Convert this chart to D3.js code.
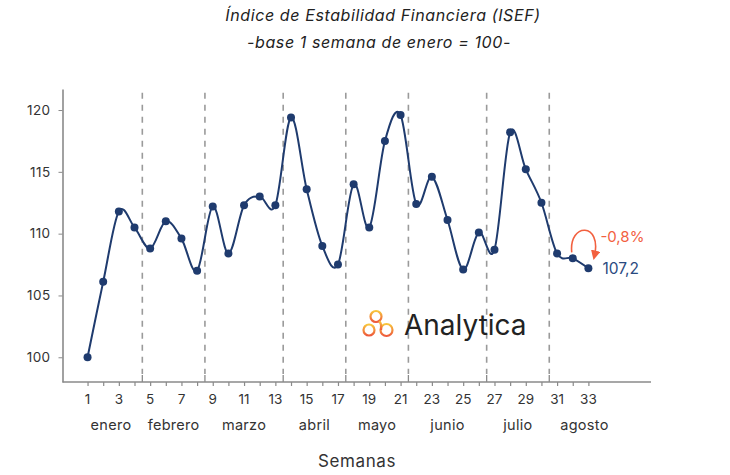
<!DOCTYPE html>
<html>
<head>
<meta charset="utf-8">
<script src="https://cdn.jsdelivr.net/npm/d3@7"></script>
<style>
  body { margin: 0; background: #fff; }
  svg text { font-family: "Inter", "Open Sans", sans-serif; }
</style>
</head>
<body>
<svg id="chart" width="730" height="475"></svg>
<script>
// weekly ISEF values, base week 1 of january = 100
var weeks = d3.range(1, 34);
var isef = [100, 106.1, 111.8, 110.5, 108.8, 111.0, 109.6, 107.0, 112.2, 108.4,
            112.3, 113.0, 112.3, 119.4, 113.6, 109.0, 107.5, 114.0, 110.5, 117.5,
            119.6, 112.4, 114.6, 111.1, 107.1, 110.1, 108.7, 118.2, 115.2, 112.5,
            108.4, 108.0, 107.2];
var yTicks = [100, 105, 110, 115, 120];
var xTickLabels = d3.range(1, 34, 2);
// month boundaries (between weeks) and names
var monthBreaks = [0.5, 4.5, 8.5, 13.5, 17.5, 21.5, 26.5, 30.5, 35];
var months = ["enero", "febrero", "marzo", "abril", "mayo", "junio", "julio", "agosto"];
var changeLabel = "-0,8%";
var lastLabel = "107,2";

var svg = d3.select("#chart");
var navy = "#1f3b6e";
var axisGrey = "#8a8a8a";

var x = d3.scaleLinear().domain([-0.6, 37]).range([62.5, 651]);
var y = d3.scaleLinear().domain([98, 121.7]).range([382, 89]);

// title
svg.append("text").attr("x", 383).attr("y", 21).attr("text-anchor", "middle")
   .style("font-style", "italic").style("font-size", "16px").style("letter-spacing", "0.6px")
   .attr("fill", "#222").text("Índice de Estabilidad Financiera (ISEF)");
svg.append("text").attr("x", 379).attr("y", 48).attr("text-anchor", "middle")
   .style("font-style", "italic").style("font-size", "16px").style("letter-spacing", "0.6px")
   .attr("fill", "#222").text("-base 1 semana de enero = 100-");

// dashed month separators
var inner = monthBreaks.slice(1, monthBreaks.length - 1);
svg.append("g").selectAll("line").data(inner).join("line")
   .attr("x1", function(d) { return x(d); }).attr("x2", function(d) { return x(d); })
   .attr("y1", y(121.4)).attr("y2", y(98) - 8)
   .attr("stroke", "#9a9a9a").attr("stroke-width", 1.6).attr("stroke-dasharray", "6,6");
// solid major ticks (pointing up)
svg.append("g").selectAll("line").data(inner).join("line")
   .attr("x1", function(d) { return x(d); }).attr("x2", function(d) { return x(d); })
   .attr("y1", y(98) - 7).attr("y2", y(98))
   .attr("stroke", axisGrey).attr("stroke-width", 1.3);

// y axis
var yAxis = svg.append("g").attr("transform", "translate(" + x(-0.6) + ",0)")
   .call(d3.axisLeft(y).tickValues(yTicks).tickSize(4).tickSizeOuter(0).tickPadding(8));
yAxis.select(".domain").attr("stroke", axisGrey).attr("stroke-width", 1.6);
yAxis.selectAll(".tick line").attr("stroke", axisGrey);
yAxis.selectAll(".tick text").style("font-size", "13.5px").style("letter-spacing", "0.4px")
   .attr("fill", "#333").style("font-family", "Inter, sans-serif");

// x axis: line, minor ticks each week
svg.append("line").attr("x1", x(-0.6)).attr("x2", x(37)).attr("y1", y(98)).attr("y2", y(98))
   .attr("stroke", axisGrey).attr("stroke-width", 1.6);
var xAxis = svg.append("g").attr("transform", "translate(0," + y(98) + ")")
   .call(d3.axisBottom(x).tickValues(weeks).tickSize(4).tickFormat(""));
xAxis.select(".domain").remove();
xAxis.selectAll(".tick line").attr("stroke", axisGrey).attr("stroke-width", 1.2);

svg.append("g").selectAll("text").data(xTickLabels).join("text")
   .attr("x", function(d) { return x(d); }).attr("y", 404)
   .attr("text-anchor", "middle").style("font-size", "13.5px").attr("fill", "#333")
   .text(function(d) { return d; });

svg.append("g").selectAll("text").data(months).join("text")
   .attr("x", function(d, i) { return x((monthBreaks[i] + monthBreaks[i + 1]) / 2); })
   .attr("y", 430).attr("text-anchor", "middle").style("font-size", "14.5px")
   .style("letter-spacing", "0.3px").attr("fill", "#333")
   .text(function(d) { return d; });

svg.append("text").attr("x", 357).attr("y", 467).attr("text-anchor", "middle")
   .style("font-size", "17px").style("letter-spacing", "0.6px").attr("fill", "#333").text("Semanas");

// logo
var defs = svg.append("defs");
var grad = defs.append("linearGradient").attr("id", "lg").attr("x1", 0).attr("y1", 0).attr("x2", 0).attr("y2", 1);
grad.append("stop").attr("offset", "0%").attr("stop-color", "#f8c63c");
grad.append("stop").attr("offset", "100%").attr("stop-color", "#ee5a3c");
var logo = svg.append("g").attr("fill", "none").attr("stroke", "url(#lg)").attr("stroke-width", 2.2);
logo.append("circle").attr("cx", 376).attr("cy", 316.5).attr("r", 5.5);
logo.append("circle").attr("cx", 369).attr("cy", 330).attr("r", 5.5);
logo.append("circle").attr("cx", 386.5).attr("cy", 330).attr("r", 6);
logo.append("path").attr("d", "M379.5,321 Q382,325 381,330");
svg.append("text").attr("x", 404).attr("y", 335).style("font-size", "28px")
   .attr("fill", "#222").text("Analytica");

// smoothed line + points
var line = d3.line()
   .x(function(d, i) { return x(weeks[i]); })
   .y(function(d) { return y(d); })
   .curve(d3.curveCardinal.tension(0));
svg.append("path").datum(isef).attr("d", line).attr("fill", "none")
   .attr("stroke", navy).attr("stroke-width", 2);
svg.append("g").selectAll("circle").data(isef).join("circle")
   .attr("cx", function(d, i) { return x(weeks[i]); })
   .attr("cy", function(d) { return y(d); })
   .attr("r", 4).attr("fill", navy);

// change annotation arrow from previous week to last week
var n = isef.length;
var px = x(weeks[n - 2]), py = y(isef[n - 2]);
var lx = x(weeks[n - 1]), ly = y(isef[n - 1]);
var red = "#f2603f";
defs.append("marker").attr("id", "ah").attr("viewBox", "0 0 10 10").attr("refX", 6).attr("refY", 5)
   .attr("markerWidth", 6).attr("markerHeight", 6).attr("orient", "auto")
   .append("path").attr("d", "M0,0L10,5L0,10z").attr("fill", red);
svg.append("path")
   .attr("d", "M" + (px - 1) + "," + (py - 6) + " C" + (px - 4) + "," + (py - 36) + " " +
        (lx + 14) + "," + (ly - 46) + " " + (lx + 6) + "," + (ly - 12))
   .attr("fill", "none").attr("stroke", red).attr("stroke-width", 1.6)
   .attr("marker-end", "url(#ah)");
svg.append("text").attr("x", lx + 12).attr("y", ly - 26).style("font-size", "15px")
   .attr("fill", red).text(changeLabel);
svg.append("text").attr("x", lx + 14).attr("y", ly + 6).style("font-size", "15.5px")
   .attr("fill", "#2a4a80").text(lastLabel);
</script>
</body>
</html>
